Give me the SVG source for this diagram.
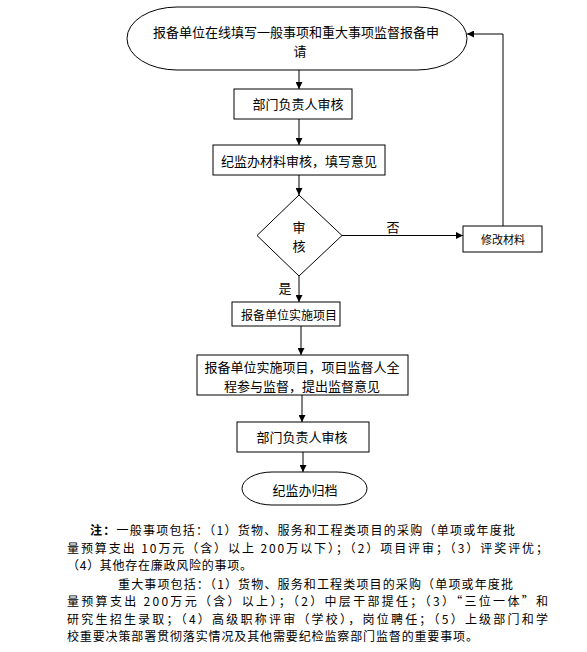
<svg xmlns="http://www.w3.org/2000/svg" width="587" height="652" viewBox="0 0 587 652">
<style>
text{font-family:"Noto Sans CJK SC","Noto Sans",sans-serif;fill:#000;dominant-baseline:central}
.n{font-size:13px;text-anchor:middle}
.s{font-size:11px;text-anchor:middle}
.m{font-size:12px;text-anchor:middle}
.note{font-size:12px}
.shape{fill:#fff;stroke:#000;stroke-width:1}
.c{fill:none;stroke:#000;stroke-width:1}
</style>
<defs>
<marker id="ah" viewBox="0 0 8 8" refX="8" refY="4" markerWidth="7" markerHeight="7" markerUnits="userSpaceOnUse" orient="auto">
<path d="M0,0 L8,4 L0,8 Z" fill="#000"/>
</marker>
</defs>
<rect width="587" height="652" fill="#fff"/>
<g id="connectors">
<line class="c" x1="299" y1="70" x2="299" y2="89" marker-end="url(#ah)"/>
<line class="c" x1="299" y1="119" x2="299" y2="145" marker-end="url(#ah)"/>
<line class="c" x1="299" y1="175" x2="299" y2="195" marker-end="url(#ah)"/>
<line class="c" x1="299" y1="276" x2="299" y2="302" marker-end="url(#ah)"/>
<line class="c" x1="342" y1="235.5" x2="463" y2="235.5" marker-end="url(#ah)"/>
<polyline class="c" points="503,226 503,34 467,34" marker-end="url(#ah)"/>
<line class="c" x1="301" y1="326" x2="301" y2="355" marker-end="url(#ah)"/>
<line class="c" x1="302" y1="395" x2="302" y2="422" marker-end="url(#ah)"/>
<line class="c" x1="303" y1="452" x2="303" y2="472" marker-end="url(#ah)"/>
<text class="n" x="393" y="226">否</text>
<text class="n" x="285" y="287">是</text>
</g>
<g id="start">
<rect class="shape" x="127" y="7" width="340" height="63" rx="50" ry="31.5"/>
<text class="n" x="296" y="31">报备单位在线填写一般事项和重大事项监督报备申</text>
<text class="n" x="300" y="50">请</text>
</g>
<g id="review1">
<rect class="shape" x="234" y="89" width="118" height="30"/>
<text class="n" x="298" y="103">部门负责人审核</text>
</g>
<g id="material">
<rect class="shape" x="213" y="145" width="172" height="30"/>
<text class="n" x="299" y="160">纪监办材料审核，填写意见</text>
</g>
<g id="decision">
<polygon class="shape" points="299,195 342,235.5 299,276 257,235.5"/>
<text class="n" x="299" y="226">审</text>
<text class="n" x="299" y="245">核</text>
</g>
<g id="modify">
<rect class="shape" x="463" y="226" width="79" height="26"/>
<text class="s" x="503" y="239">修改材料</text>
</g>
<g id="implement">
<rect class="shape" x="232" y="302" width="108" height="24"/>
<text class="m" x="289" y="314">报备单位实施项目</text>
</g>
<g id="supervise">
<rect class="shape" x="197" y="355" width="211" height="40"/>
<text class="n" x="302" y="366">报备单位实施项目，项目监督人全</text>
<text class="n" x="302" y="385">程参与监督，提出监督意见</text>
</g>
<g id="review2">
<rect class="shape" x="237" y="422" width="132" height="30"/>
<text class="n" x="302" y="436">部门负责人审核</text>
</g>
<g id="archive">
<rect class="shape" x="242" y="472" width="125" height="33" rx="30" ry="16.5"/>
<text class="n" x="305" y="489">纪监办归档</text>
</g>
<g id="notes">
<text class="note" x="90" y="529" textLength="425" lengthAdjust="spacing"><tspan font-weight="bold">注：</tspan>一般事项包括：（1）货物、服务和工程类项目的采购（单项或年度批</text>
<text class="note" x="67" y="547" textLength="481" lengthAdjust="spacing">量预算支出 10万元（含）以上 200万以下）；（2）项目评审；（3）评奖评优；</text>
<text class="note" x="67" y="564.6" textLength="185" lengthAdjust="spacing">（4）其他存在廉政风险的事项。</text>
<text class="note" x="118" y="583" textLength="395" lengthAdjust="spacing">重大事项包括：（1）货物、服务和工程类项目的采购（单项或年度批</text>
<text class="note" x="67" y="600.6" textLength="481" lengthAdjust="spacing">量预算支出 200万元（含）以上）；（2）中层干部提任；（3）“三位一体”和</text>
<text class="note" x="67" y="618.2" textLength="481" lengthAdjust="spacing">研究生招生录取；（4）高级职称评审（学校），岗位聘任；（5）上级部门和学</text>
<text class="note" x="67" y="635.8" textLength="411" lengthAdjust="spacing">校重要决策部署贯彻落实情况及其他需要纪检监察部门监督的重要事项。</text>
</g>
</svg>
